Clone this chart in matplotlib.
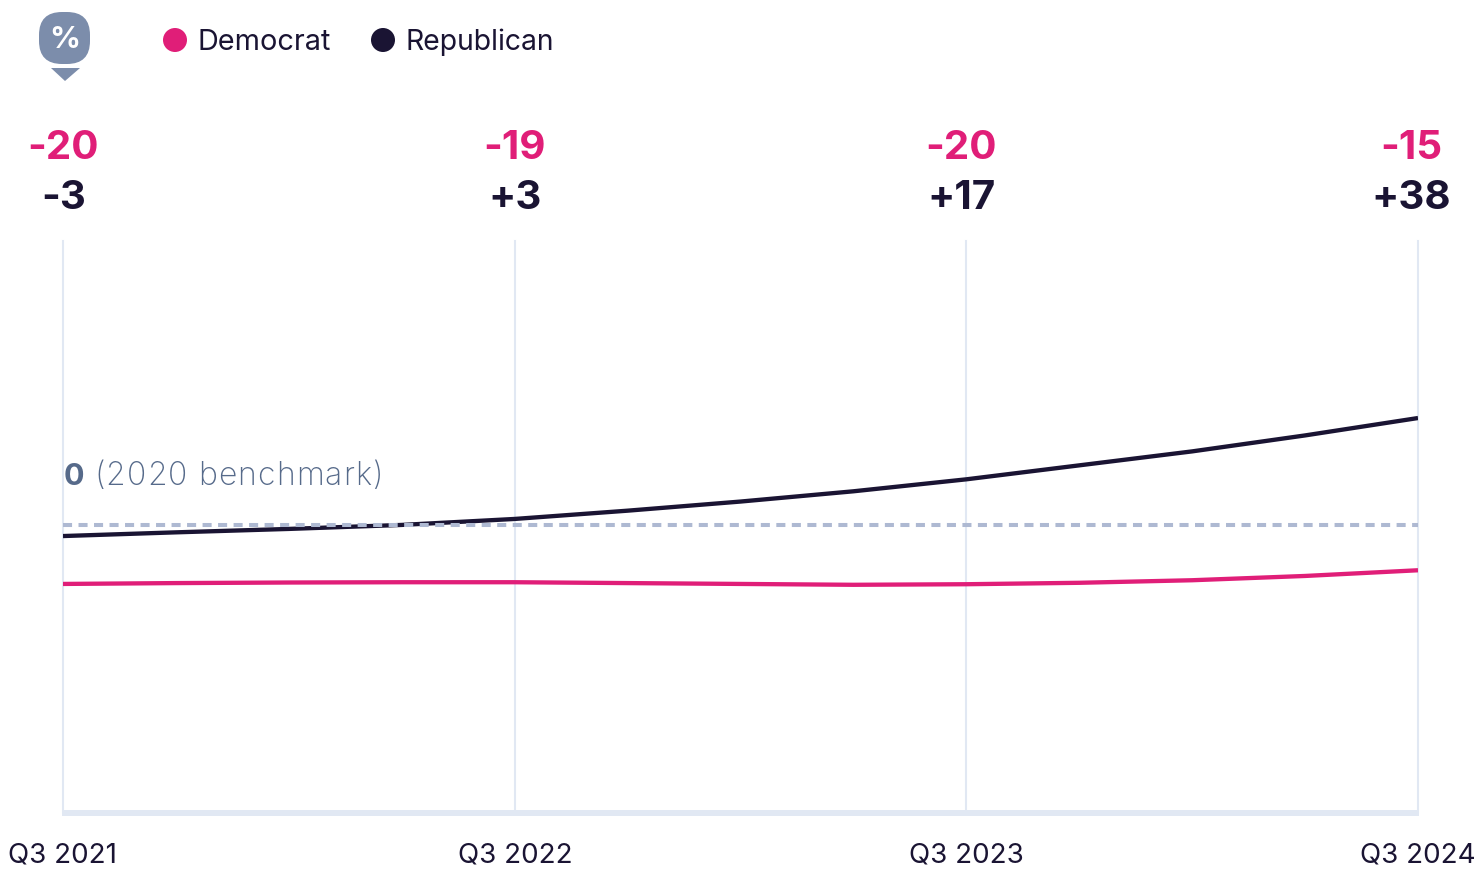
import matplotlib
matplotlib.use("Agg")
import matplotlib.pyplot as plt
from matplotlib.patches import FancyBboxPatch, Polygon, Ellipse

plt.rcParams['font.family'] = ['Inter', 'DejaVu Sans']

# quarterly values, Q3 2021 to Q3 2024
quarters = list(range(13))
democrat = [-20.7, -20.4, -20.2, -20.1, -20.1, -20.4, -20.7, -21.0, -20.8, -20.3, -19.4, -17.9, -15.9]
republican = [-3.9, -2.6, -1.4, 0.0, 2.1, 5.0, 8.2, 11.8, 16.0, 20.9, 25.8, 31.4, 37.5]

tick_pos = [0, 4, 8, 12]
tick_labels = ["Q3 2021", "Q3 2022", "Q3 2023", "Q3 2024"]
dem_labels = ["-20", "-19", "-20", "-15"]
rep_labels = ["-3", "+3", "+17", "+38"]

PINK = "#e01e78"
NAVY = "#1a1433"
GRID = "#e1e8f3"
DASH = "#aeb9d2"
SLATE = "#566a8a"
BADGE = "#7c8dab"

W, H = 1480, 894
fig = plt.figure(figsize=(W / 100, H / 100), dpi=100)

# plot area in pixels: x 63-1418, y 241-812
ax = fig.add_axes([63 / W, 1 - 812 / H, (1418 - 63) / W, (812 - 241) / H])
ax.set_xlim(0, 12)
ax.set_ylim(-100.7, 99.6)
ax.axis("off")

for p in tick_pos:
    ax.axvline(p, color=GRID, lw=1.5, zorder=1, clip_on=False)
ax.plot(quarters, democrat, color=PINK, lw=3.1, zorder=3, solid_capstyle="butt")
ax.plot(quarters, republican, color=NAVY, lw=3.1, zorder=3, solid_capstyle="butt")
ax.axhline(0, color=DASH, lw=2.9, dashes=(2.25, 1.6), zorder=4, clip_on=False)

# overlay in pixel coords for the furniture around the plot
ov = fig.add_axes([0, 0, 1, 1])
ov.set_xlim(0, W)
ov.set_ylim(H, 0)
ov.axis("off")
ov.patch.set_alpha(0)

ov.add_patch(plt.Rectangle((62, 810), 1357, 5.5, color=GRID, lw=0))

# badge
ov.add_patch(FancyBboxPatch((54, 27), 21, 22, boxstyle="round,pad=15,rounding_size=23", fc=BADGE, ec="none"))
ov.add_patch(Polygon([(51, 68), (80, 68), (65, 81)], fc=BADGE, ec="none"))
ov.text(64.5, 48, "%", color="white", fontsize=22, fontweight="bold", ha="center", va="baseline")

# legend
ov.add_patch(Ellipse((175, 40), 24, 24, fc=PINK, ec="none"))
ov.add_patch(Ellipse((383, 40), 24, 24, fc=NAVY, ec="none"))
ov.text(198, 50, "Democrat", color=NAVY, fontsize=20.8, va="baseline")
ov.text(406, 50, "Republican", color=NAVY, fontsize=20.4, va="baseline")

# numbers over each tick
num_x = [63.5, 515, 961.5, 1411]
for x, d, r in zip(num_x, dem_labels, rep_labels):
    ov.text(x, 159, d, color=PINK, fontsize=29, fontweight="bold", ha="center", va="baseline")
    ov.text(x, 209, r, color=NAVY, fontsize=29, fontweight="bold", ha="center", va="baseline")

# benchmark label, letter spaced by hand since matplotlib has no tracking
ov.text(64, 485, "0", color=SLATE, fontsize=22, fontweight="bold", va="baseline")
renderer = fig.canvas.get_renderer()
bench = "(2020 benchmark)"
for i, ch in enumerate(bench):
    pre = ov.text(0, 0, bench[:i] + "|", fontsize=23, fontweight="light")
    bar = ov.text(0, 0, "|", fontsize=23, fontweight="light")
    adv = pre.get_window_extent(renderer).width - bar.get_window_extent(renderer).width
    pre.remove()
    bar.remove()
    ov.text(94 + adv + i * 1.1, 485, ch, color=SLATE, fontsize=23, fontweight="light", va="baseline")

# x labels
lab_x = [63, 515, 966.5, 1418]
for x, t in zip(lab_x, tick_labels):
    ov.text(x, 862, t, color=NAVY, fontsize=20, ha="center", va="baseline")

fig.savefig("out.png", dpi=100)
